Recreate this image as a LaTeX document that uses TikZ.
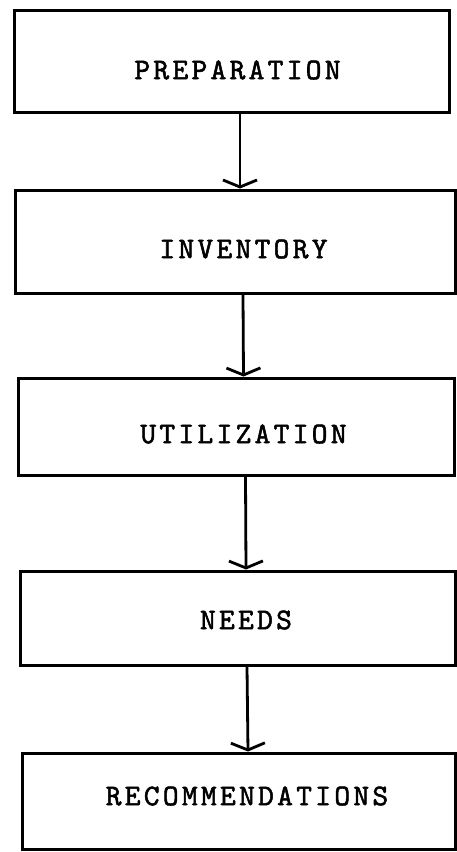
\documentclass[tikz,border=0pt]{standalone}
\usepackage{fontspec}
\usepackage{tikz}
\usetikzlibrary{arrows.meta, positioning, calc}
\newfontfamily\stagefont{lmmono10-regular}[Extension=.otf, LetterSpace=11, FakeBold=1.8]

\begin{document}
\begin{tikzpicture}[
    stagebox/.style={draw, line width=3pt, inner sep=0pt},
    stagetext/.style={inner sep=0pt, font=\stagefont\fontsize{30}{34}\selectfont},
    flow/.style={line width=2.8pt, -{Straight Barb[length=7pt, width=34pt]}}
  ]
  \useasboundingbox (0,0) rectangle (457pt,-852pt);

  % boxes
  \node[stagebox, minimum width=435pt, minimum height=102pt] (prep) at (231.5pt,-61pt) {};
  \node[stagebox, minimum width=440pt, minimum height=103pt] (inv) at (235pt,-241.5pt) {};
  \node[stagebox, minimum width=436pt, minimum height=97pt] (util) at (236.5pt,-426.5pt) {};
  \node[stagebox, minimum width=435pt, minimum height=94pt] (needs) at (238pt,-618pt) {};
  \node[stagebox, minimum width=433pt, minimum height=96pt] (recs) at (239pt,-801pt) {};

  % labels
  \node[stagetext] (prepLabel) at (237.5pt,-70pt) {PREPARATION};
  \node[stagetext] (invLabel) at (243.5pt,-249pt) {INVENTORY};
  \node[stagetext] (utilLabel) at (243.5pt,-434pt) {UTILIZATION};
  \node[stagetext] (needsLabel) at (246pt,-620pt) {NEEDS};
  \node[stagetext] (recsLabel) at (247pt,-796pt) {RECOMMENDATIONS};

  \draw[flow] ([xshift=8.5pt]prep.south) -- ([xshift=5pt]inv.north);
  \draw[flow] ([xshift=8pt]inv.south) -- ([xshift=7pt]util.north);
  \draw[flow] ([xshift=9pt]util.south) -- ([xshift=8pt]needs.north);
  \draw[flow] ([xshift=9pt]needs.south) -- ([xshift=9pt]recs.north);
\end{tikzpicture}
\end{document}
